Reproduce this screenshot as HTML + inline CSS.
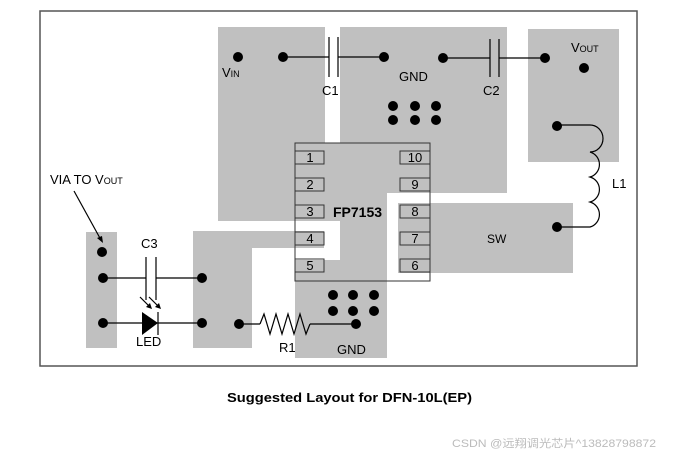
<!DOCTYPE html>
<html><head><meta charset="utf-8"><style>
html,body{margin:0;padding:0;background:#fff;}
svg{display:block;}
text{font-family:"Liberation Sans",Arial,sans-serif;fill:#000;}
</style></head><body>
<svg width="677" height="457" viewBox="0 0 677 457" xmlns="http://www.w3.org/2000/svg">
<rect x="40" y="11" width="597" height="355" fill="#fff" stroke="#555" stroke-width="1.5"/>
<g fill="#c0c0c0">
<rect x="218" y="27" width="107" height="194"/>
<rect x="295" y="143" width="45" height="78"/>
<rect x="295" y="260" width="45" height="21"/>
<rect x="340" y="27" width="167" height="166"/>
<rect x="340" y="193" width="47" height="89"/>
<rect x="295" y="281" width="92" height="77"/>
<rect x="398" y="203" width="175" height="70"/>
<rect x="528" y="29" width="91" height="133"/>
<rect x="86" y="232" width="31" height="116"/>
<rect x="193" y="231" width="59" height="117"/>
<rect x="252" y="231" width="72" height="17"/>
</g>
<!-- chip -->
<rect x="295" y="143" width="135" height="138" fill="none" stroke="#333" stroke-width="1"/>
<g fill="none" stroke="#333" stroke-width="1">
<rect x="295" y="151" width="29" height="13"/><rect x="295" y="178" width="29" height="13"/>
<rect x="295" y="205" width="29" height="13"/><rect x="295" y="232" width="29" height="13"/>
<rect x="295" y="259" width="29" height="13"/>
<rect x="400" y="151" width="30" height="13"/><rect x="400" y="178" width="30" height="13"/>
<rect x="400" y="205" width="30" height="13"/><rect x="400" y="232" width="30" height="13"/>
<rect x="400" y="259" width="30" height="13"/>
</g>
<g font-size="13" text-anchor="middle">
<text x="310" y="162">1</text><text x="310" y="189">2</text><text x="310" y="216">3</text><text x="310" y="243">4</text><text x="310" y="270">5</text>
<text x="415" y="162">10</text><text x="415" y="189">9</text><text x="415" y="216">8</text><text x="415" y="243">7</text><text x="415" y="270">6</text>
</g>
<text x="333" y="217" font-size="14" font-weight="bold">FP7153</text>
<!-- wires -->
<g stroke="#000" stroke-width="1.2" fill="none">
<line x1="283" y1="57" x2="329" y2="57"/><line x1="338" y1="57" x2="384" y2="57"/>
<line x1="329" y1="37" x2="329" y2="77"/><line x1="338" y1="37" x2="338" y2="77"/>
<line x1="443" y1="58" x2="490" y2="58"/><line x1="499" y1="58" x2="545" y2="58"/>
<line x1="490" y1="39" x2="490" y2="77"/><line x1="499" y1="39" x2="499" y2="77"/>
<path d="M557,125 H590 A13,13.5 0 0 1 590,152 A13,13 0 0 1 590,177 A13,13 0 0 1 590,202 A13,13 0 0 1 590,227 H557"/>
<line x1="103" y1="278" x2="146" y2="278"/><line x1="156" y1="278" x2="202" y2="278"/>
<line x1="146" y1="257" x2="146" y2="300"/><line x1="156" y1="257" x2="156" y2="300"/>
<line x1="103" y1="323" x2="202" y2="323"/>
<line x1="158" y1="312" x2="158" y2="335"/>
<line x1="239" y1="324" x2="260" y2="324"/>
<polyline points="260,324 264,314 270,334 276,314 282,334 288,314 294,334 300,314 306,334 310,324"/>
<line x1="310" y1="324" x2="356" y2="324"/>
<line x1="74" y1="191" x2="101" y2="240"/>
<line x1="140" y1="297" x2="150" y2="307"/><line x1="149" y1="297" x2="159" y2="307"/>
</g>
<polygon points="142,312 142,335 158,323" fill="#000"/>
<polygon points="103,243 97,238 102,236" fill="#000"/>
<polygon points="152,309 146,307 150,303" fill="#000"/>
<polygon points="161,309 155,307 159,303" fill="#000"/>
<!-- dots -->
<g fill="#000">
<circle cx="238" cy="57" r="5"/><circle cx="283" cy="57" r="5"/><circle cx="384" cy="57" r="5"/>
<circle cx="443" cy="58" r="5"/><circle cx="545" cy="58" r="5"/><circle cx="584" cy="68" r="5"/>
<circle cx="557" cy="126" r="5"/><circle cx="557" cy="227" r="5"/>
<circle cx="393" cy="106" r="5"/><circle cx="415" cy="106" r="5"/><circle cx="436" cy="106" r="5"/>
<circle cx="393" cy="120" r="5"/><circle cx="415" cy="120" r="5"/><circle cx="436" cy="120" r="5"/>
<circle cx="333" cy="295" r="5"/><circle cx="353" cy="295" r="5"/><circle cx="374" cy="295" r="5"/>
<circle cx="333" cy="311" r="5"/><circle cx="353" cy="311" r="5"/><circle cx="374" cy="311" r="5"/>
<circle cx="102" cy="252" r="5"/><circle cx="103" cy="278" r="5"/><circle cx="103" cy="323" r="5"/>
<circle cx="202" cy="278" r="5"/><circle cx="202" cy="323" r="5"/>
<circle cx="239" cy="324" r="5"/><circle cx="356" cy="324" r="5"/>
</g>
<g font-size="13">
<text x="222" y="77">V<tspan font-size="9">IN</tspan></text>
<text x="571" y="52">V<tspan font-size="9">OUT</tspan></text>
<text x="322" y="95">C1</text><text x="483" y="95">C2</text>
<text x="399" y="81">GND</text>
<text x="612" y="188">L1</text>
<text x="487" y="243" font-size="12">SW</text>
<text x="50" y="184">VIA TO V<tspan font-size="9">OUT</tspan></text>
<text x="141" y="248">C3</text>
<text x="136" y="346">LED</text>
<text x="279" y="352">R1</text>
<text x="337" y="354">GND</text>
</g>
<text x="227" y="402" font-size="13" font-weight="bold" textLength="245" lengthAdjust="spacingAndGlyphs">Suggested Layout for DFN-10L(EP)</text>
<text x="452" y="447" font-size="11" textLength="204" lengthAdjust="spacingAndGlyphs" style="fill:#bbb;font-family:'Liberation Sans','Noto Sans CJK SC',sans-serif">CSDN @远翔调光芯片^13828798872</text>
</svg>
</body></html>
